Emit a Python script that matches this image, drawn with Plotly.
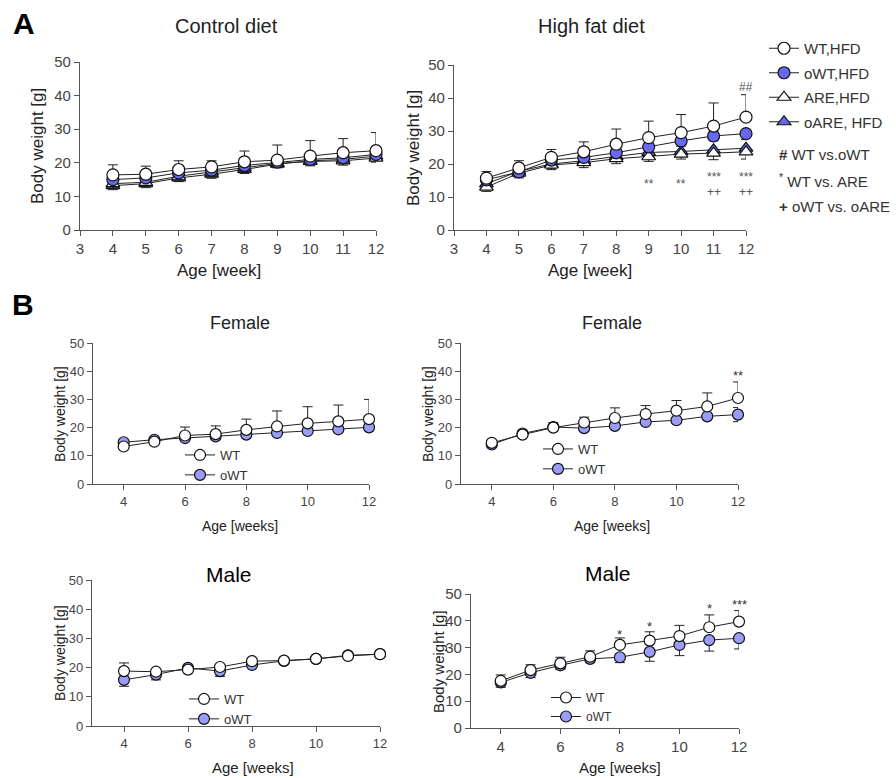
import plotly.graph_objects as go

# ---------------- data ----------------
weeks = [4, 5, 6, 7, 8, 9, 10, 11, 12]

# Panel A - control diet
ctrl_WT = [16.4, 16.6, 18.0, 18.8, 20.3, 20.8, 22.0, 23.0, 23.6]
ctrl_WT_err = [3.0, 2.4, 2.6, 1.8, 3.2, 4.5, 4.6, 4.2, 5.4]
ctrl_oWT = [15.0, 15.5, 17.0, 17.8, 19.2, 20.2, 21.0, 21.5, 22.5]
ctrl_oWT_err = [1.2, 1.0, 1.2, 1.0, 1.3, 1.2, 1.2, 1.2, 1.3]
ctrl_ARE = [13.8, 14.2, 16.0, 17.2, 18.6, 19.8, 20.4, 20.6, 21.4]
ctrl_ARE_err = [1.3, 1.2, 1.2, 1.3, 1.3, 1.2, 1.3, 1.3, 1.2]
ctrl_oARE = [13.2, 13.8, 15.5, 16.6, 18.0, 19.6, 20.6, 21.0, 22.0]
ctrl_oARE_err = [1.2, 1.2, 1.1, 1.2, 1.2, 1.1, 1.2, 1.2, 1.2]

# Panel A - high fat diet
hfd_WT = [15.7, 18.8, 22.0, 23.7, 26.0, 28.0, 29.5, 31.5, 34.2]
hfd_WT_err = [2.0, 2.2, 2.4, 3.0, 4.6, 5.0, 5.5, 7.0, 6.8]
hfd_oWT = [15.2, 17.6, 21.2, 22.0, 23.4, 25.2, 27.0, 28.5, 29.2]
hfd_oWT_err = [1.2, 1.5, 1.4, 1.3, 1.5, 1.6, 1.6, 1.5, 1.8]
hfd_ARE = [13.0, 17.2, 19.7, 20.4, 21.6, 22.2, 23.0, 23.3, 23.7]
hfd_ARE_err = [1.3, 1.4, 1.4, 1.5, 1.5, 1.4, 1.5, 2.0, 2.2]
hfd_oARE = [14.0, 17.8, 20.0, 21.0, 22.3, 23.5, 23.8, 24.3, 24.8]
hfd_oARE_err = [1.2, 1.3, 1.3, 1.3, 1.4, 1.4, 1.4, 1.5, 1.5]

# Panel B - female
fem_ctrl_WT = [13.3, 15.0, 17.2, 17.7, 19.2, 20.4, 21.5, 22.2, 23.0]
fem_ctrl_WT_err = [0.8, 1.0, 3.0, 2.9, 3.8, 5.5, 5.9, 5.8, 7.0]
fem_ctrl_oWT = [14.8, 15.7, 16.3, 16.9, 17.5, 18.1, 18.8, 19.4, 20.1]
fem_ctrl_oWT_err = [0.8, 0.8, 0.8, 0.8, 0.8, 0.8, 0.8, 0.8, 0.8]
fem_hfd_WT = [14.6, 17.5, 20.0, 21.8, 23.4, 24.8, 26.0, 27.5, 30.5]
fem_hfd_WT_err = [1.0, 1.2, 1.8, 1.9, 3.6, 3.0, 3.6, 4.8, 5.7]
fem_hfd_oWT = [14.0, 17.9, 20.2, 19.8, 20.6, 22.0, 22.6, 24.0, 24.6]
fem_hfd_oWT_err = [0.6, 0.8, 0.8, 1.0, 0.8, 0.8, 0.8, 0.8, 2.5]

# Panel B - male
male_ctrl_WT = [18.8, 18.6, 19.3, 20.2, 22.2, 22.4, 23.0, 24.0, 24.6]
male_ctrl_WT_err = [2.8, 0.8, 0.6, 0.6, 0.6, 0.5, 0.5, 0.5, 0.5]
male_ctrl_oWT = [15.8, 17.6, 19.9, 18.8, 20.9, 22.3, 23.0, 24.2, 24.6]
male_ctrl_oWT_err = [2.2, 1.8, 0.6, 1.8, 0.8, 0.5, 0.5, 0.5, 0.5]
male_hfd_WT = [17.6, 21.6, 24.1, 26.6, 31.0, 32.6, 34.3, 37.6, 39.7]
male_hfd_WT_err = [2.2, 2.0, 2.3, 2.2, 2.6, 3.3, 4.0, 4.6, 4.1]
male_hfd_oWT = [17.0, 20.6, 23.4, 25.8, 26.4, 28.4, 31.0, 32.8, 33.5]
male_hfd_oWT_err = [1.8, 1.8, 1.6, 1.4, 2.0, 3.5, 4.0, 4.1, 4.0]

ticks_A = [3, 4, 5, 6, 7, 8, 9, 10, 11, 12]
ticks_B = [4, 6, 8, 10, 12]
ticks_Y = [0, 10, 20, 30, 40, 50]

# ---------------- styling ----------------
FONT = "Liberation Sans, Arial, sans-serif"
BLUE_A = "#6868f0"
BLUE_B = "#9a9cf8"
W, H = 896, 778

fig = go.Figure()


def add(ax, x, y, eup, edn, name, symbol, fill, legend, rank, size=12):
    fig.add_trace(go.Scatter(
        x=x, y=y, xaxis="x" + ax, yaxis="y" + ax, mode="lines+markers", name=name,
        line=dict(color="#222", width=1),
        marker=dict(symbol=symbol, size=size, color=fill, line=dict(color="#111", width=1.2)),
        error_y=dict(type="data", symmetric=False, array=eup, arrayminus=edn,
                     color="#222", thickness=1, width=5),
        legend=legend, showlegend=legend is not None, legendrank=rank,
        legendgroup=name + ax, cliponaxis=False))


zeros = [0] * 9
# A left
add("", weeks, ctrl_oARE, zeros, ctrl_oARE_err, "oARE, HFD", "triangle-up", BLUE_A, None, 4)
add("", weeks, ctrl_ARE, zeros, ctrl_ARE_err, "ARE,HFD", "triangle-up", "white", None, 3)
add("", weeks, ctrl_oWT, zeros, ctrl_oWT_err, "oWT,HFD", "circle", BLUE_A, None, 2)
add("", weeks, ctrl_WT, ctrl_WT_err, zeros, "WT,HFD", "circle", "white", None, 1)
# A right
add("2", weeks, hfd_oARE, zeros, hfd_oARE_err, "oARE, HFD", "triangle-up", BLUE_A, "legend", 4)
add("2", weeks, hfd_ARE, zeros, hfd_ARE_err, "ARE,HFD", "triangle-up", "white", "legend", 3)
add("2", weeks, hfd_oWT, zeros, hfd_oWT_err, "oWT,HFD", "circle", BLUE_A, "legend", 2)
add("2", weeks, hfd_WT, hfd_WT_err, zeros, "WT,HFD", "circle", "white", "legend", 1)
# B panels
add("3", weeks, fem_ctrl_oWT, fem_ctrl_oWT_err, fem_ctrl_oWT_err, "oWT", "circle", BLUE_B, "legend2", 2, 11)
add("3", weeks, fem_ctrl_WT, fem_ctrl_WT_err, zeros, "WT", "circle", "white", "legend2", 1, 11)
add("4", weeks, fem_hfd_oWT, fem_hfd_oWT_err, fem_hfd_oWT_err, "oWT", "circle", BLUE_B, "legend3", 2, 11)
add("4", weeks, fem_hfd_WT, fem_hfd_WT_err, zeros, "WT", "circle", "white", "legend3", 1, 11)
add("5", weeks, male_ctrl_oWT, zeros, male_ctrl_oWT_err, "oWT", "circle", BLUE_B, "legend4", 2, 11)
add("5", weeks, male_ctrl_WT, male_ctrl_WT_err, zeros, "WT", "circle", "white", "legend4", 1, 11)
add("6", weeks, male_hfd_oWT, zeros, male_hfd_oWT_err, "oWT", "circle", BLUE_B, "legend5", 2, 11)
add("6", weeks, male_hfd_WT, male_hfd_WT_err, zeros, "WT", "circle", "white", "legend5", 1, 11)


def px_dom_x(a, b):
    return [a / W, b / W]


def px_dom_y(top, bottom):
    return [1 - bottom / H, 1 - top / H]


panels = {
    "": (px_dom_x(80, 376), px_dom_y(62, 230), ticks_A, 15, 15),
    "2": (px_dom_x(454, 746), px_dom_y(65, 230), ticks_A, 15, 15),
    "3": (px_dom_x(93, 369), px_dom_y(343, 484), ticks_B, 13, 13),
    "4": (px_dom_x(461, 738), px_dom_y(343, 484), ticks_B, 13, 13),
    "5": (px_dom_x(92, 380), px_dom_y(580, 726), ticks_B, 13, 13),
    "6": (px_dom_x(471, 739), px_dom_y(594, 728), ticks_B, 15, 15),
}

axis_common = dict(showline=True, linecolor="#555", linewidth=1.3, ticks="outside",
                   ticklen=5, tickcolor="#555", tickwidth=1.3, showgrid=False,
                   zeroline=False)
layout = dict(
    width=W, height=H, margin=dict(l=0, r=0, t=0, b=0, autoexpand=False),
    plot_bgcolor="white", paper_bgcolor="white",
    font=dict(family=FONT, color="#333"),
)
for k, (dx, dy, tv, fx, fy) in panels.items():
    layout["xaxis" + k] = dict(domain=dx, anchor="y" + k, range=[3, 12], tickvals=tv,
                               tickfont=dict(size=fx, color="#444"), **axis_common)
    layout["yaxis" + k] = dict(domain=dy, anchor="x" + k, range=[0, 50], tickvals=ticks_Y,
                               tickfont=dict(size=fy, color="#444"), **axis_common)

leg_common = dict(xanchor="left", yanchor="top", bgcolor="rgba(0,0,0,0)",
                  itemwidth=30, itemclick=False)
layout["legend"] = dict(x=764 / W, y=1 - 32 / H, font=dict(size=15, color="#333", family=FONT),
                        traceorder="grouped", tracegroupgap=2, **leg_common)
for name, (lx, ly, fs) in {"legend2": (180, 440, 13), "legend3": (538, 434, 13),
                           "legend4": (184, 684, 13), "legend5": (546, 683, 12)}.items():
    layout[name] = dict(x=lx / W, y=1 - ly / H, font=dict(size=fs, color="#333", family=FONT),
                        traceorder="normal", **leg_common)

fig.update_layout(**layout)


def ann(text, x, y, size, xref="paper", yref="paper", color="#222", angle=0,
        xanchor="center", yanchor="middle"):
    if xref == "paper":
        x = x / W
    if yref == "paper":
        y = 1 - y / H
    fig.add_annotation(text=text, x=x, y=y, xref=xref, yref=yref, showarrow=False,
                       font=dict(size=size, color=color, family=FONT), textangle=angle,
                       xanchor=xanchor, yanchor=yanchor)


# panel letters and titles
ann("<b>A</b>", 24, 24, 30, color="black")
ann("<b>B</b>", 23, 304, 30, color="black")
ann("Control diet", 226, 26, 20)
ann("High fat diet", 591, 26, 20)
ann("Female", 240, 323, 18)
ann("Female", 612, 323, 18)
ann("Male", 229, 574, 21, color="black")
ann("Male", 608, 573, 21, color="black")

# axis titles
ann("Body weight [g]", 38, 146, 17, angle=-90)
ann("Body weight [g]", 413, 148, 17, angle=-90)
ann("Age [week]", 219, 270, 17)
ann("Age [week]", 590, 270, 17)
ann("Body weight [g]", 60, 414, 14, angle=-90)
ann("Body weight [g]", 428, 414, 14, angle=-90)
ann("Body weight [g]", 60, 653, 14, angle=-90)
ann("Body weight [g]", 438, 662, 15, angle=-90)
ann("Age [weeks]", 240, 526, 14)
ann("Age [weeks]", 612, 526, 14)
ann("Age [weeks]", 253, 767, 15)
ann("Age [weeks]", 620, 767, 15)

# significance key
ann("<b>#</b> WT vs.oWT", 777, 154, 15, color="#333", xanchor="left")
ann("<sup>*</sup> WT vs. ARE", 777, 180, 15, color="#333", xanchor="left")
ann("<b>+</b> oWT vs. oARE", 777, 206, 15, color="#333", xanchor="left")

# significance marks (data coordinates)
sig_A = [("##", 12, 43.3), ("**", 9, 14.0), ("**", 10, 14.0), ("***", 11, 16.0),
         ("++", 11, 11.6), ("***", 12, 16.0), ("++", 12, 11.6)]
for t, xv, yv in sig_A:
    ann(t, xv, yv, 12, xref="x2", yref="y2", color="#555")
ann("**", 12, 38.5, 13, xref="x4", yref="y4", color="#333")
for t, xv, yv in [("*", 8, 34.8), ("*", 9, 38.0), ("*", 11, 44.5), ("***", 12, 46.0)]:
    ann(t, xv, yv, 13, xref="x6", yref="y6", color="#333")

fig.write_html("out.html", config={"displayModeBar": False},
               post_script="document.body.style.margin='0px';")
